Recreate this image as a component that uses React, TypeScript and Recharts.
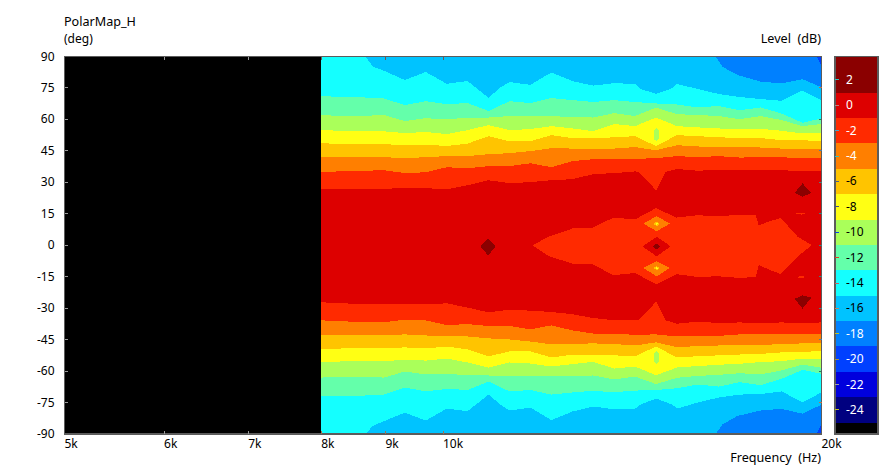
import React from "react";
import { AreaChart, Area, XAxis, YAxis, ReferenceArea } from "recharts";

const FONT = "'Noto Sans', Tahoma, sans-serif";
const FRAME = "#5c5c5c";

// Frequency grid (Hz) of the measurement
const FREQ = [8000,8313,8638,8975,9325,9689,10068,10461,10870,11295,11736,12194,12672,13166,13680,14214,14771,15347,15947,16571,17216,17888,18588,19314,20000];

// Contours: upper / lower angle (deg) at which the level crosses each boundary
const C14_FREQ = [8000,8313,8638,8672,8801,8975,9325,9689,10068,10461,10870,11108,11295,11736,12194,12672,13166,13680,14214,14358,14771,15222,15347,15947,16571,17216,17888,18588,19314,20000];
const C14_UP = [90,90,90,90,85.1,83.2,78.8,82.6,77,78.3,70.3,75.3,77.8,76.5,82.4,78.3,76.1,77.3,76.9,74.5,72.2,74.9,76.9,74.5,72.1,70.7,69.7,68.9,73.8,69.2];
const C14_LO = [-90,-90,-90,-90,-86,-83.9,-79.8,-83.6,-77.9,-79.1,-71.2,-76,-78.8,-77.4,-83.4,-79.3,-76.9,-78.2,-78,-76,-73.1,-76,-77.9,-75,-72.6,-71.2,-71,-69.7,-74.8,-70.2];

const C12_UP = [71.3,70.5,70.5,70,66.8,68.7,67.3,67.8,64,68.7,67.8,70.2,69.2,68.3,69.2,68.3,67.6,67.1,65.7,66.4,64.4,65.7,62.8,58.4,60.5];
const C12_LO = [-72,-71.7,-71.7,-71.2,-67.8,-69.7,-68.5,-69,-65,-69.7,-69,-71.2,-70.2,-69.4,-70.1,-69.3,-69,-68.2,-66.4,-67.4,-65.3,-66.7,-63.7,-59.4,-61.3];

const C10_UP = [62.1,61.6,61.7,62.1,59.2,60.6,60,60.9,60.9,61.6,61.6,61.6,61.1,60.9,63,61.6,65.6,62.5,62.1,61.6,60.1,61.6,59.7,56.8,57.8];
const C10_LO = [-63.1,-62.6,-62.6,-63.1,-60.2,-61.6,-61.2,-62.1,-62.1,-62.4,-62.4,-62.4,-62.3,-62.1,-64,-62.6,-66.2,-63.2,-62.3,-61.8,-61,-61.6,-59.7,-56.9,-58.4];

const C8_UP = [55.1,54.4,54.4,54.3,53.5,54,53,54.9,57.3,54.9,55.4,56.8,55.7,54.4,57.8,56.8,60.9,56.8,56.2,55.7,55.2,55.5,54.6,53.3,53.3];
const C8_LO = [-55.7,-55.4,-55.4,-55.4,-54.5,-55,-54,-55.9,-58.3,-55.9,-56.4,-57.8,-56.7,-55.6,-58.8,-57.8,-62,-58.3,-57.6,-57,-56.5,-55.7,-55.3,-54,-54.5];

const C6_UP = [48.7,48.2,48.2,48.2,47.7,48,47.3,48.5,52,49.6,49.6,52.5,51.1,50.9,51.5,52,47.3,52.5,52,51.5,51.1,51.1,50.1,50.1,49.6];
const C6_LO = [-49.7,-49.2,-49.2,-49.2,-48.7,-49.2,-48.3,-49.7,-53,-50.6,-50.6,-53.5,-52.2,-52.1,-52.5,-52.9,-48.3,-53.5,-52.9,-52.5,-52.1,-51.8,-51.1,-50.8,-50.5];

const C4_UP = [42,42,42,42,41.5,42,42.5,42.5,43.4,43.9,44.9,46.3,46.1,46.1,46.1,46.8,45.3,47.7,47.1,46.8,46.8,46.6,46.1,45.8,45.7];
const C4_LO = [-43,-43,-43,-43,-42.5,-43,-43.5,-43.5,-44.4,-44.9,-45.9,-47.3,-47,-46.8,-47.1,-47.8,-46.3,-48.6,-48.1,-47.8,-47.6,-47.6,-47.1,-46.8,-46.7];

const C2_UP = [34.8,35.3,35.5,35.8,34.4,34.8,37.2,36.7,37.7,37.7,39.1,37.2,40.1,41,41,41.2,41.5,42.5,42,42.5,41.8,42,42,41.4,41.4];
const C2_LO = [-35.8,-36.3,-36.5,-36.8,-35.4,-35.8,-38.1,-37.6,-38.5,-38.5,-40.1,-38.2,-40.6,-42.1,-42.2,-42.7,-42.5,-43.5,-43.2,-43.2,-42.5,-42.5,-42.5,-42.5,-42.5];

const C0_FREQ = [8000,8313,8638,8975,9325,9689,10068,10461,10870,11295,11736,12194,12672,13166,13680,14214,14306,14625,14771,15037,15347,15947,16571,17216,17888,18588,19314,20000];
const C0_UP = [26.6,26.6,26.6,26.9,27.3,27.2,26.7,28.6,31,29.6,30.1,31,31.5,33.9,34.4,35.2,35,29.4,25.8,35,36.4,35.5,36.1,35.8,35.8,35.8,35.3,35.5];
const C0_LO = [-27.2,-27.7,-28,-28,-28.2,-28.2,-27.7,-29.7,-32,-30.7,-31.2,-31.8,-32.9,-34.7,-35.8,-35.8,-35.8,-30.1,-26.6,-35.8,-37.4,-36.4,-37.1,-36.8,-37.1,-36.8,-37.1,-36.8];

// Top and bottom right: -18 dB region
const BLUE_FREQ = [16475,16679,17145,17888,18588,19314,20000];
const BLUE_UP = [90,85.1,81.2,78,77.2,79.2,75.3];
const BLUE_LO = [-90,-85.5,-81.4,-78.8,-78,-80.3,-76];

// Centre lobe above -1 dB boundary
const INNER_FREQ = [11779,12130,12676,13153,13666,14214,14771,15332,15941,16567,17216,17730,17829,18225,18563,19151,19648];
const INNER_UP = [0,4,8,8.4,13.2,12.3,17.7,13.2,14.3,13.8,14.6,14.3,9.5,11.6,13,4,0];
const INNER_LO = [0,-5.1,-8.8,-9.1,-14.3,-13.2,-18.6,-13.8,-15.1,-14.8,-15.6,-15.1,-9.5,-11.9,-13.8,-5.3,0];

const FULL_RANGE_FREQ = [5000, 20000];
const MAP_FREQ = [8000, 20000];

type Row = { f: number; r: [number, number] };
const rows = (fs: number[], lo: number[], up: number[]): Row[] =>
  fs.map((f, i) => ({ f, r: [lo[i], up[i]] as [number, number] }));

const COLORS: Record<string, string> = {
  hot: "#8b0000", c0: "#dd0000", c2: "#ff2a00", c4: "#ff7f00", c6: "#ffc400", c8: "#ffff14",
  c10: "#aaff5a", c12: "#64ffaa", c14: "#14ffff", c16: "#00c3ff", c18: "#0080ff", c20: "#0040ff",
  c22: "#0000dd", c24: "#000080", base: "#000000",
};

// Small closed features: [fill, frequencies, lower, upper]
const SPOTS: [string, number[], number[], number[]][] = [
  ["c20", [19829, 20000], [90, 85.2], [90, 90]],
  ["c20", [19829, 20000], [-90, -90], [-90, -85.2]],
  ["c10", [14715, 14783, 14851], [50.6, 49.7, 50.6], [54.9, 55.9, 54.9]],
  ["c10", [14715, 14783, 14851], [-55.5, -56.5, -55.5], [-51.4, -50.5, -51.4]],
  ["c4", [14431, 14790, 15153], [10.3, 6.7, 10.3], [10.3, 13.9, 10.3]],
  ["c4", [14431, 14790, 15153], [-10.8, -14.8, -10.8], [-10.8, -7.6, -10.8]],
  ["c6", [14699, 14790, 14878], [10.2, 9.1, 10.2], [10.2, 11.3, 10.2]],
  ["c6", [14699, 14790, 14878], [-10.9, -11.9, -10.9], [-10.9, -9.9, -10.9]],
  ["c8", [14745, 14790, 14835], [10.2, 9.8, 10.2], [10.2, 10.6, 10.2]],
  ["c8", [14745, 14790, 14835], [-10.9, -11.3, -10.9], [-10.9, -10.5, -10.9]],
  ["c0", [14405, 14790, 15173], [-0.5, -5.3, -0.5], [-0.5, 4, -0.5]],
  ["hot", [14672, 14790, 14897], [-0.5, -2, -0.5], [-0.5, 0.8, -0.5]],
  ["hot", [10708, 10861, 11013], [-0.7, -4.8, -0.7], [-0.7, 3.3, -0.7]],
  ["hot", [19046, 19314, 19637], [25, 23.1, 25], [25, 29.5, 25]],
  ["hot", [19046, 19314, 19637], [-25.5, -30.2, -25], [-25.5, -23.9, -25]],
  ["c2", [19077, 19285, 19430], [15.2, 14.6, 15.2], [15.2, 15.6, 15.2]],
  ["c2", [19077, 19285, 19430], [-15.2, -15.6, -15.2], [-15.2, -14.6, -15.2]],
];

const X_TICKS = [5000, 6000, 7000, 8000, 9000, 10000, 20000];
const Y_TICKS = [90, 75, 60, 45, 30, 15, 0, -15, -30, -45, -60, -75, -90];
const X_LABELS = ["5k", "6k", "7k", "8k", "9k", "10k", "20k"];

// Colour scale
const SCALE_EDGES = [3.85, 1, -1, -3, -5, -7, -9, -11, -13, -15, -17, -19, -21, -23, -25, -25.9];
const SCALE_KEYS = ["hot", "c0", "c2", "c4", "c6", "c8", "c10", "c12", "c14", "c16", "c18", "c20", "c22", "c24", "base"];
const SCALE_TICKS = [2, 0, -2, -4, -6, -8, -10, -12, -14, -16, -18, -20, -22, -24];
const SCALE_TEXT = ["#fff", "#fff", "#fff", "#fff", "#000", "#000", "#000", "#000", "#000", "#000", "#fff", "#fff", "#fff", "#fff"];
const SCALE_MARK = ["#30c0c0", "#c08080", "#50a0c0", "#30c0c0", "#506080", "#405080", "#1040e0", "#e04020", "#c06060", "#c08060", "#c0c020", "#a09040", "#a0a0a0", "#c0c020"];
const RIGHT_MARK: Record<number, string> = { 75: "#c0704a", 60: "#3a7060", 45: "#5080a0", 30: "#508080", 15: "#3a8080", 0: "#3a8080", [-15]: "#3a8080", [-30]: "#408080", [-45]: "#5080a0", [-60]: "#3a7060", [-75]: "#c0704a" };

const band = (key: string, data: Row[], id: string) => (
  <Area key={id} data={data} dataKey="r" xAxisId={0} yAxisId={0} type="linear" stroke="none" fill={COLORS[key]} fillOpacity={1} dot={false} activeDot={false} isAnimationActive={false} />
);

const textStyle = { fontFamily: FONT, fontSize: 12, fill: "#000" };
const titleStyle = { fontFamily: FONT, fontSize: 12.6, fill: "#000", whiteSpace: "pre" as const };

const LeftTick = (p: any) => {
  const { x, y, payload } = p;
  const v = payload.value;
  return (
    <g>
      {v !== 90 && v !== -90 ? <line x1={x} x2={x + 3} y1={y} y2={y} stroke="#999" /> : null}
      <text x={x - 10} y={y + 4} textAnchor="end" style={textStyle}>{v}</text>
    </g>
  );
};
const RightTick = (p: any) => {
  const { x, y, payload } = p;
  const c = RIGHT_MARK[payload.value];
  return c ? <line x1={x - 3} x2={x} y1={y} y2={y} stroke={c} /> : <g />;
};
const BottomTick = (p: any) => {
  const { x, y, payload, index } = p;
  const v = payload.value;
  return (
    <g>
      {v !== 5000 && v !== 20000 ? <line x1={x} x2={x} y1={y - 3} y2={y} stroke={v < 8000 ? "#999" : "#a07050"} /> : null}
      <text x={x} y={y + 14} textAnchor="start" style={textStyle}>{X_LABELS[index]}</text>
    </g>
  );
};
const TopTick = (p: any) => {
  const { x, y, payload } = p;
  const v = payload.value;
  return v !== 5000 && v !== 20000 ? <line x1={x} x2={x} y1={y} y2={y + 3} stroke={v < 8000 ? "#999" : "#705850"} /> : <g />;
};
const ScaleTick = (p: any) => {
  const { x, y, index, payload } = p;
  return (
    <g>
      <line x1={x} x2={x + 4} y1={y} y2={y} stroke={SCALE_MARK[index]} />
      <text x={x + 11} y={y + 4} textAnchor="start" style={{ ...textStyle, fill: SCALE_TEXT[index] }}>{payload.value}</text>
    </g>
  );
};

const scaleRow = (lo: number, hi: number) => [{ x: 0, r: [lo, hi] }, { x: 1, r: [lo, hi] }];

export default function App() {
  return (
    <div style={{ position: "absolute", left: 0, top: 0, width: 892, height: 469, background: "#fff", shapeRendering: "crispEdges" }}>
      <div style={{ position: "absolute", left: 0, top: 0 }}>
        <AreaChart width={892} height={469} margin={{ top: 55.5, right: 0, bottom: 0, left: 0 }}>
          {band("base", rows(FULL_RANGE_FREQ, [-90, -90], [90, 90]), "base")}
          {band("c16", rows(MAP_FREQ, [-90, -90], [90, 90]), "c16")}
          {band("c18", rows(BLUE_FREQ, BLUE_UP, BLUE_UP.map(() => 90)), "blueUp")}
          {band("c18", rows(BLUE_FREQ, BLUE_LO.map(() => -90), BLUE_LO), "blueLo")}
          {band("c14", rows(C14_FREQ, C14_LO, C14_UP), "c14")}
          {band("c12", rows(FREQ, C12_LO, C12_UP), "c12")}
          {band("c10", rows(FREQ, C10_LO, C10_UP), "c10")}
          {band("c8", rows(FREQ, C8_LO, C8_UP), "c8")}
          {band("c6", rows(FREQ, C6_LO, C6_UP), "c6")}
          {band("c4", rows(FREQ, C4_LO, C4_UP), "c4")}
          {band("c2", rows(FREQ, C2_LO, C2_UP), "c2")}
          {band("c0", rows(C0_FREQ, C0_LO, C0_UP), "c0")}
          {band("c2", rows(INNER_FREQ, INNER_LO, INNER_UP), "inner")}
          {SPOTS.map(([k, f, lo, up], i) => band(k, rows(f, lo, up), "spot" + i))}
          <ReferenceArea x1={5000} x2={20000} y1={-90} y2={90} fill="none" stroke={FRAME} strokeWidth={1.5} ifOverflow="visible" />
          <XAxis xAxisId={0} dataKey="f" type="number" scale="log" domain={[5000, 20000]} allowDataOverflow ticks={X_TICKS} interval={0} height={35} axisLine={false} tickLine={false} tickSize={0} tickMargin={0} tick={<BottomTick />} />
          <XAxis xAxisId="top" orientation="top" dataKey="f" type="number" scale="log" domain={[5000, 20000]} allowDataOverflow ticks={X_TICKS} interval={0} height={1} axisLine={false} tickLine={false} tickSize={0} tickMargin={0} tick={<TopTick />} />
          <YAxis yAxisId={0} type="number" domain={[-90, 90]} allowDataOverflow ticks={Y_TICKS} interval={0} width={64.5} axisLine={false} tickLine={false} tickSize={0} tickMargin={0} tick={<LeftTick />} />
          <YAxis yAxisId="right" orientation="right" type="number" domain={[-90, 90]} allowDataOverflow ticks={Y_TICKS} interval={0} width={70.5} axisLine={false} tickLine={false} tickSize={0} tickMargin={0} tick={<RightTick />} />
          <text x={64} y={26} style={titleStyle}>PolarMap_H</text>
          <text x={64} y={43} style={textStyle}>(deg)</text>
          <text x={821} y={43} textAnchor="end" xmlSpace="preserve" style={titleStyle}>Level  (dB)</text>
          <text x={821} y={462} textAnchor="end" xmlSpace="preserve" style={titleStyle}>Frequency  (Hz)</text>
        </AreaChart>
      </div>
      <div style={{ position: "absolute", left: 834, top: 0 }}>
        <AreaChart width={45} height={469} margin={{ top: 56.5, right: 1, bottom: 0, left: 0 }}>
          {SCALE_KEYS.map((k, i) => (
            <Area key={k} data={scaleRow(SCALE_EDGES[i + 1], SCALE_EDGES[i])} dataKey="r" type="linear" stroke="none" fill={COLORS[k]} fillOpacity={1} dot={false} activeDot={false} isAnimationActive={false} />
          ))}
          <ReferenceArea x1={0} x2={1} y1={-25.9} y2={3.85} fill="none" stroke={FRAME} strokeWidth={1.5} ifOverflow="visible" />
          <XAxis dataKey="x" type="number" domain={[0, 1]} height={35} axisLine={false} tickLine={false} tick={false} />
          <YAxis type="number" domain={[-25.9, 3.85]} allowDataOverflow ticks={SCALE_TICKS} interval={0} width={1} axisLine={false} tickLine={false} tickSize={0} tickMargin={0} tick={<ScaleTick />} />
        </AreaChart>
      </div>
    </div>
  );
}
